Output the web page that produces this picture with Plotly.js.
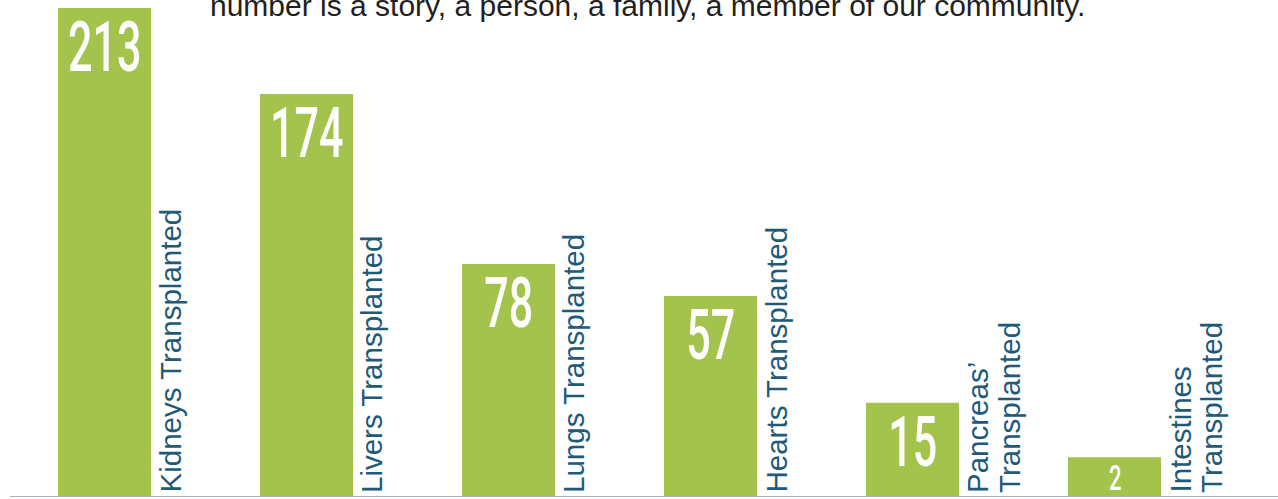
<!DOCTYPE html>
<html>
<head>
<meta charset="utf-8">
<script src="https://cdn.plot.ly/plotly-3.0.1.min.js"></script>
<style>
  html, body { margin: 0; padding: 0; background: #ffffff; }
  #chart { width: 1278px; height: 499px; }
</style>
</head>
<body>
<div id="chart"></div>
<script>
// ---- data ----
const categories = ["Kidneys", "Livers", "Lungs", "Hearts", "Pancreas", "Intestines"];
const categoryLabels = [
  "Kidneys Transplanted",
  "Livers Transplanted",
  "Lungs Transplanted",
  "Hearts Transplanted",
  "Pancreas’<br>Transplanted",
  "Intestines<br>Transplanted"
];
const values = [213, 174, 78, 57, 15, 2];
// bar lengths as drawn in the infographic (not to scale), in the same units as the 213 bar
const barLengths = [213, 175.5, 101.5, 87.6, 41.1, 17.3];
const subtitleText = "number is a story, a person, a family, a member of our community.";

// ---- styling ----
const GREEN = "#a4c34c";
const TEAL = "#215a78";
const PX_PER_CAT = 202;
const BAR_PX = 93;
const W = 1278;
const FIRST_CENTER = 104.5;
const NUM_FONT = "Roboto, DejaVu Sans, sans-serif";

const annotations = [];
const numberSizes = [];

// value labels inside bars
categories.forEach((c, i) => {
  const small = barLengths[i] < 30;
  const size = small ? 36 : 70;
  numberSizes.push(size);
  annotations.push({
    x: c, y: barLengths[i], xref: "x", yref: "y",
    text: String(values[i]),
    showarrow: false,
    xanchor: "center", yanchor: "top",
    yshift: small ? 1 : 3,
    borderpad: 0,
    font: { family: NUM_FONT, size: size, color: "#ffffff", weight: 500 }
  });
});

// rotated category labels to the right of each bar
categories.forEach((c, i) => {
  const lines = categoryLabels[i].split("<br>");
  lines.forEach((ln, j) => {
    annotations.push({
      x: c, y: 0, xref: "x", yref: "y",
      text: ln,
      showarrow: false,
      textangle: -90,
      xanchor: "left", yanchor: "bottom",
      xshift: BAR_PX / 2 + 1 + j * 32,
      yshift: 3,
      borderpad: 0,
      font: { family: "Liberation Sans, Arial, sans-serif", size: 29.5, color: TEAL }
    });
  });
});

// partially visible subtitle at the top
annotations.push({
  x: 647 / W, y: 1, xref: "paper", yref: "paper",
  text: subtitleText,
  showarrow: false,
  xanchor: "center", yanchor: "top",
  yshift: 12,
  borderpad: 0,
  font: { family: "Liberation Sans, Arial, sans-serif", size: 30, color: "#231f20" }
});

const trace = {
  type: "bar",
  x: categories,
  y: barLengths,
  width: BAR_PX / PX_PER_CAT,
  marker: { color: GREEN, line: { width: 0 } },
  hoverinfo: "skip"
};

const layout = {
  width: W,
  height: 499,
  margin: { l: 0, r: 0, t: 0, b: 2, pad: 0 },
  paper_bgcolor: "#ffffff",
  plot_bgcolor: "#ffffff",
  showlegend: false,
  xaxis: {
    type: "category",
    range: [-FIRST_CENTER / PX_PER_CAT, (W - FIRST_CENTER) / PX_PER_CAT],
    showticklabels: false, showgrid: false, zeroline: false, showline: false, ticks: ""
  },
  yaxis: {
    range: [0, 497 * 213 / 489],
    showticklabels: false, showgrid: false, zeroline: false, showline: false, ticks: ""
  },
  shapes: [{
    type: "line", xref: "paper", yref: "y",
    x0: 10 / W, x1: 1, y0: 0, y1: 0,
    line: { color: "#aab4c8", width: 2 }
  }],
  annotations: annotations
};

Plotly.newPlot("chart", [trace], layout, { staticPlot: true, displayModeBar: false }).then(() => {
  // narrow the number glyphs horizontally to mimic the condensed display face
  document.querySelectorAll("#chart .annotation").forEach(g => {
    const idx = +g.getAttribute("data-index");
    if (!(idx >= 0 && idx < values.length)) return;
    const t = g.querySelector("text");
    if (!t) return;
    const bb = t.getBBox();
    const target = String(values[idx]).length * 0.35 * numberSizes[idx];
    const s = Math.min(1, target / bb.width);
    const cx = bb.x + bb.width / 2;
    const prev = t.getAttribute("transform") || "";
    t.setAttribute("transform", `translate(${cx},0) scale(${s},1) translate(${-cx},0) ${prev}`);
  });
});
</script>
</body>
</html>
